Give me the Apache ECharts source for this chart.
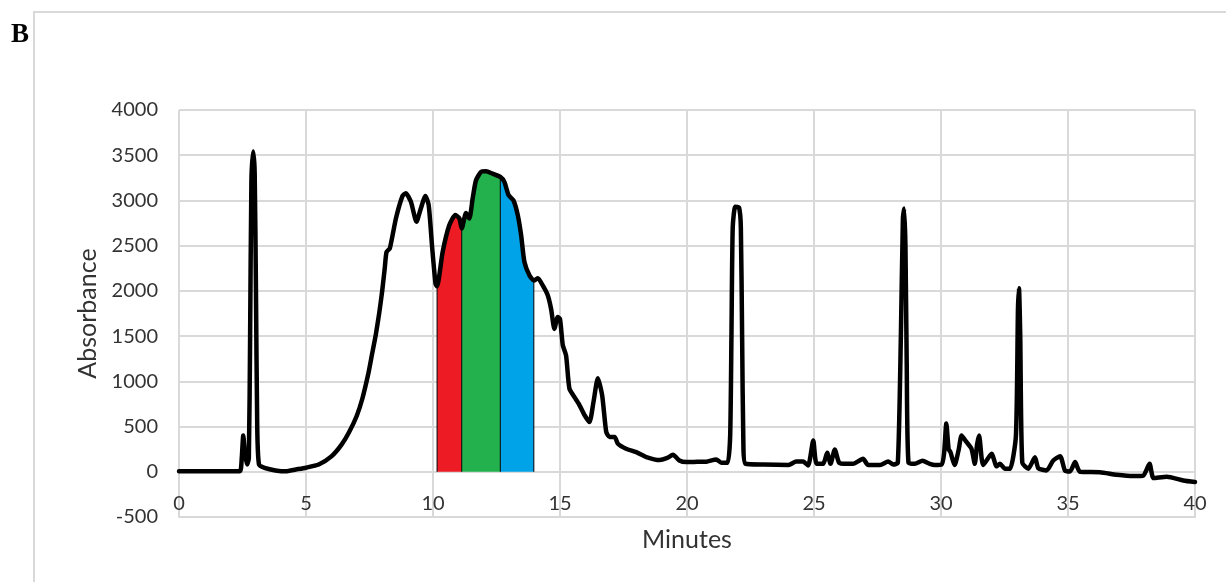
<!DOCTYPE html>
<html>
<head>
<meta charset="utf-8">
<title>Chromatogram B</title>
<script src="https://cdn.jsdelivr.net/npm/echarts@6/dist/echarts.min.js"></script>
<style>
  html, body { margin: 0; padding: 0; background: #ffffff; }
  #chart { width: 1226px; height: 582px; }
</style>
</head>
<body>
<div id="chart"></div>
<script>
// Retention time (minutes) and detector absorbance readings
const minutes = [
  0, 1, 2, 2.4, 2.47, 2.53, 2.6, 2.68, 2.75, 2.8, 2.85, 2.92, 2.98, 3.03, 3.08, 3.15,
  3.4, 3.8, 4.2, 4.6, 5.0, 5.5, 6.0, 6.4, 6.7, 7.0, 7.22, 7.45, 7.6, 7.75, 7.88,
  8.0, 8.1, 8.17, 8.3, 8.54, 8.8, 8.93, 9.13, 9.35, 9.52, 9.7, 9.83, 9.97, 10.1,
  10.16, 10.38, 10.64, 10.88, 11.04, 11.13, 11.3, 11.43, 11.56, 11.69, 11.89, 12.09,
  12.35, 12.65, 12.81, 12.98, 13.17, 13.34, 13.47, 13.6, 13.8, 13.97, 14.13, 14.32,
  14.52, 14.65, 14.78, 14.91, 15.0, 15.11, 15.24, 15.37, 15.57, 15.77, 15.97, 16.16,
  16.32, 16.49, 16.66, 16.82, 16.95, 17.15, 17.28, 17.6, 18.0, 18.4, 18.92, 19.2,
  19.45, 19.7, 19.97, 20.4, 20.76, 21.15, 21.35, 21.6, 21.7, 21.75, 21.8, 21.9,
  22.05, 22.12, 22.17, 22.22, 22.3, 23, 24, 24.3, 24.57, 24.77, 24.97, 25.1, 25.36,
  25.52, 25.65, 25.82, 25.99, 26.28, 26.54, 26.93, 27.13, 27.6, 27.92, 28.12, 28.3,
  28.42, 28.5, 28.55, 28.6, 28.65, 28.72, 28.97, 29.27, 29.56, 29.76, 30.02, 30.12,
  30.21, 30.3, 30.37, 30.54, 30.7, 30.81, 31.0, 31.2, 31.33, 31.42, 31.5, 31.6,
  31.66, 31.99, 32.19, 32.32, 32.52, 32.72, 32.95, 33.03, 33.07, 33.12, 33.2, 33.44,
  33.7, 33.83, 34.16, 34.42, 34.69, 34.88, 35.08, 35.28, 35.47, 36.26, 36.92, 37.58,
  37.97, 38.21, 38.37, 38.89, 39.54, 40
];
const absorbance = [
  5, 5, 5, 5, 150, 400, 200, 80, 150, 1500, 3200, 3540, 3300, 2000, 500, 80,
  40, 15, 5, 25, 45, 80, 170, 300, 440, 620, 810, 1080, 1300, 1520, 1750,
  2000, 2250, 2430, 2470, 2800, 3050, 3080, 2985, 2765, 2910, 3050, 2950, 2470, 2080,
  2050, 2430, 2725, 2840, 2800, 2690, 2860, 2800, 3020, 3220, 3315, 3322,
  3296, 3260, 3205, 3057, 3000, 2835, 2615, 2320, 2170, 2115, 2140, 2060,
  1950, 1800, 1580, 1710, 1690, 1400, 1285, 920, 825, 735, 625, 550,
  775, 1035, 845, 440, 385, 385, 310, 255, 218, 163, 130, 150,
  188, 125, 107, 110, 112, 136, 100, 100, 400, 1500, 2700, 2930,
  2920, 2700, 1500, 300, 90, 80, 75, 114, 114, 70, 346, 88, 88,
  210, 88, 247, 100, 88, 88, 144, 75, 75, 114, 80, 100,
  1500, 2800, 2910, 2500, 1200, 100, 88, 122, 88, 75, 80, 200,
  535, 250, 218, 75, 250, 400, 330, 255, 88, 300, 400, 150,
  75, 200, 60, 88, 33, 33, 400, 1800, 2030, 1500, 100, 33,
  162, 40, 15, 125, 173, 15, 4, 107, 0, -5, -33, -48,
  -40, 88, -70, -55, -96, -114
];

// Collected fractions: start/end times and fill colours
const fractionBounds = [10.16, 11.13, 12.65, 13.97];
const fractionColors = ['#ED1C24', '#22B14C', '#00A2E8'];

const xTicks = { min: 0, max: 40, interval: 5 };
const yTicks = { min: -500, max: 4000, interval: 500 };

const trace = minutes.map((t, i) => [t, absorbance[i]]);
const SMOOTH = 0.2;

function segment(t0, t1) {
  return trace.filter(p => p[0] >= t0 - 1e-9 && p[0] <= t1 + 1e-9);
}
function valueAt(t) {
  const p = trace.find(q => Math.abs(q[0] - t) < 1e-9);
  return p ? p[1] : 0;
}

const gridColor = '#d9d9d9';
const textColor = '#333333';
const font = 'Lato, "Noto Sans", sans-serif';

const series = [];
fractionColors.forEach((c, k) => {
  series.push({
    type: 'line',
    data: segment(fractionBounds[k], fractionBounds[k + 1]),
    smooth: SMOOTH,
    symbol: 'none',
    lineStyle: { width: 0 },
    areaStyle: { color: c, opacity: 1, origin: 0 },
    z: 2,
    silent: true
  });
});
// thin dividers between the fractions
fractionBounds.forEach(t => {
  series.push({
    type: 'line',
    data: [[t, 0], [t, valueAt(t)]],
    symbol: 'none',
    lineStyle: { color: '#000', width: 1 },
    z: 3,
    silent: true
  });
});
series.push({
  type: 'line',
  data: trace,
  smooth: SMOOTH,
  symbol: 'none',
  lineStyle: { color: '#000', width: 4.5, join: 'round', cap: 'round' },
  z: 5,
  silent: true
});

const chart = echarts.init(document.getElementById('chart'), null, { renderer: 'canvas' });
chart.setOption({
  animation: false,
  backgroundColor: '#ffffff',
  grid: { left: 179, right: 31, top: 110, bottom: 65, containLabel: false, outerBoundsMode: 'none' },
  graphic: [
    {
      type: 'rect',
      shape: { x: 34, y: 12, width: 1400, height: 800 },
      style: { fill: 'none', stroke: gridColor, lineWidth: 2 },
      silent: true
    },
    {
      type: 'text',
      left: 11, top: 22,
      style: { text: 'B', font: 'bold 27px "Liberation Serif", "DejaVu Serif", serif', fill: '#000' }
    }
  ],
  xAxis: {
    type: 'value',
    min: xTicks.min, max: xTicks.max, interval: xTicks.interval,
    name: 'Minutes',
    nameLocation: 'middle',
    nameGap: 10,
    nameTextStyle: { color: textColor, fontSize: 25, fontFamily: font },
    axisLine: { show: true, onZero: false, lineStyle: { color: gridColor, width: 2 } },
    axisTick: { show: false },
    axisLabel: { color: textColor, fontSize: 20, fontFamily: font, margin: -23 },
    splitLine: { show: true, lineStyle: { color: gridColor, width: 2 } }
  },
  yAxis: {
    type: 'value',
    min: yTicks.min, max: yTicks.max, interval: yTicks.interval,
    name: 'Absorbance',
    nameLocation: 'middle',
    nameGap: 78,
    nameTextStyle: { color: textColor, fontSize: 25, fontFamily: font },
    axisLine: { show: false },
    axisTick: { show: false },
    axisLabel: { color: textColor, fontSize: 20, fontFamily: font, margin: 21, formatter: v => String(v) },
    splitLine: { show: true, lineStyle: { color: gridColor, width: 2 } }
  },
  series: series
});
</script>
</body>
</html>
